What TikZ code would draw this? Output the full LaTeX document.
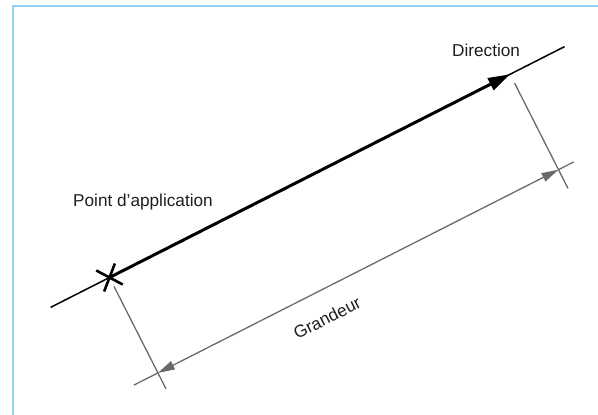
\documentclass[tikz,border=0pt]{standalone}
\usepackage{fontspec}
\setmainfont{Liberation Sans}
\usetikzlibrary{calc,arrows.meta}
\definecolor{framecol}{HTML}{8DD3EE}
\definecolor{dimcol}{HTML}{6A6A6A}
\definecolor{txtcol}{HTML}{1E1E1E}
\begin{document}
\begin{tikzpicture}[x=1pt,y=1pt,
  mainline/.style={line width=1.5pt, black},
  force/.style={line width=3pt, black, -{Triangle[length=22pt,width=13pt]}},
  crossmark/.style={line width=2.6pt, black},
  ext/.style={line width=1.3pt, dimcol},
  dimline/.style={line width=1.3pt, dimcol, {Triangle[length=17pt,width=9pt]}-{Triangle[length=17pt,width=9pt]}},
  dimtail/.style={line width=1.3pt, dimcol},
  lbl/.style={font=\fontsize{17.2}{20}\selectfont, text=txtcol, inner sep=0pt},
  framestyle/.style={line width=2pt, framecol}]
\useasboundingbox (0,0) rectangle (598,415);
% frame
\coordinate (F1) at (12.5,0);
\coordinate (F2) at (12.5,409);
\coordinate (F3) at (598,409);
\draw[framestyle] (F1) -- (F2) -- (F3);
\def\ang{26.9}
% key points
\coordinate (P) at (109.5,137.5);
\coordinate (T) at ($(P)+(\ang:449.2)$);
\coordinate (A) at ($(P)+(\ang+180:66)$);
\coordinate (B) at ($(T)+(\ang:61)$);
\coordinate (D1) at ($(P)+(\ang-90:107)$);
\coordinate (D2) at ($(T)+(\ang-90:107)$);
\coordinate (D1e) at ($(D1)+(\ang+180:27)$);
\coordinate (D2e) at ($(D2)+(\ang:17)$);
\coordinate (E1s) at ($(P)+(\ang-90:10)$);
\coordinate (E1e) at ($(P)+(\ang-90:125)$);
\coordinate (E2s) at ($(T)+(\ang-90:10)$);
\coordinate (E2e) at ($(T)+(\ang-90:128)$);
\coordinate (C1a) at ($(P)+(-28:15)$);
\coordinate (C1b) at ($(P)+(152:15)$);
\coordinate (C2a) at ($(P)+(69:15)$);
\coordinate (C2b) at ($(P)+(249:15)$);
% line of action
\draw[mainline] (A) -- (B);
\draw[force] (P) -- (T);
\draw[crossmark] (C1b) -- (C1a);
\draw[crossmark] (C2b) -- (C2a);
% extension lines
\draw[ext] (E1s) -- (E1e);
\draw[ext] (E2s) -- (E2e);
% dimension line
\draw[dimline] (D1) -- (D2);
\draw[dimtail] (D1e) -- (D1);
\draw[dimtail] (D2) -- (D2e);
% labels
\node[lbl, anchor=base west] (dir) at (452,358) {Direction};
\node[lbl, anchor=base west] (pa) at (73,208) {Point d’application};
\node[lbl, rotate=\ang] (gr) at (327,97) {Grandeur};
\end{tikzpicture}
\end{document}
